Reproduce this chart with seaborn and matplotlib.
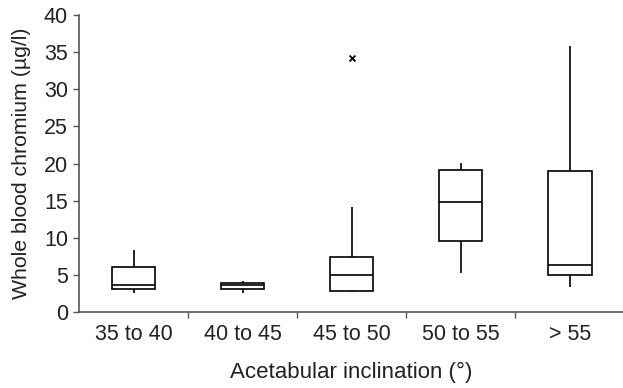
import matplotlib
matplotlib.use("Agg")
import matplotlib.pyplot as plt
import seaborn as sns
import pandas as pd

# Acetabular inclination groups
categories = ["35 to 40", "40 to 45", "45 to 50", "50 to 55", "> 55"]

# Five-number summaries per group: lower whisker, Q1, median, Q3, upper whisker
summary_35_40 = [2.5, 3.05, 3.6, 6.0, 8.35]
summary_40_45 = [2.6, 3.14, 3.64, 3.95, 4.17]
summary_45_50 = [2.74, 2.87, 4.94, 7.36, 14.1]
summary_50_55 = [5.2, 9.56, 14.86, 19.1, 20.1]
summary_gt_55 = [3.41, 4.94, 6.33, 18.99, 35.87]

# Outlying values (group, whole blood chromium)
outlier_groups = ["45 to 50"]
outlier_values = [34.25]

y_ticks = [0, 5, 10, 15, 20, 25, 30, 35, 40]

summaries = [summary_35_40, summary_40_45, summary_45_50, summary_50_55, summary_gt_55]
df = pd.DataFrame(
    [(cat, v) for cat, vals in zip(categories, summaries) for v in vals],
    columns=["group", "chromium"],
)

sns.set_style("ticks")
plt.rcParams["font.family"] = ["Liberation Sans", "DejaVu Sans"]

fig = plt.figure(figsize=(6.23, 3.88), dpi=100)
ax = fig.add_axes([79 / 623, 1 - 312 / 388, 1 - 79 / 623 + 0.002, (312 - 15) / 388])

sns.boxplot(
    data=df, x="group", y="chromium", order=categories, ax=ax,
    whis=(0, 100), width=0.4, color="white", linecolor="black", linewidth=1.2,
    showcaps=False, fliersize=0,
    boxprops=dict(facecolor="white", edgecolor="black"),
)

out_x = [categories.index(g) for g in outlier_groups]
sns.scatterplot(x=out_x, y=outlier_values, marker="x", color="black", s=18,
                linewidth=1.3, ax=ax, zorder=5)

ax.set_xlim(-0.5, 4.5)
ax.set_ylim(0, 40)
ax.set_yticks(y_ticks)
ax.set_yticklabels([str(t) for t in y_ticks])

# Ticks sit on group boundaries; labels centred under each box
ax.set_xticks([0.5, 1.5, 2.5, 3.5])
ax.set_xticklabels([])
ax.set_xticks(range(len(categories)), minor=True)
ax.set_xticklabels(categories, minor=True)
ax.tick_params(axis="x", which="minor", length=0, pad=9, labelsize=15.5, colors="#222222")
ax.tick_params(axis="x", which="major", length=4, width=1, color="#555555")
ax.tick_params(axis="y", length=4, width=1, color="#555555", labelsize=15.5,
               labelcolor="#222222", pad=4)

for s in ["top", "right"]:
    ax.spines[s].set_visible(False)
for s in ["left", "bottom"]:
    ax.spines[s].set_color("#555555")
    ax.spines[s].set_linewidth(1.2)

ax.set_xlabel("Acetabular inclination (°)", fontsize=16, color="#222222", labelpad=12)
ax.set_ylabel("Whole blood chromium (µg/l)", fontsize=15.3, color="#222222", labelpad=9)

fig.savefig("out.png", dpi=100)
